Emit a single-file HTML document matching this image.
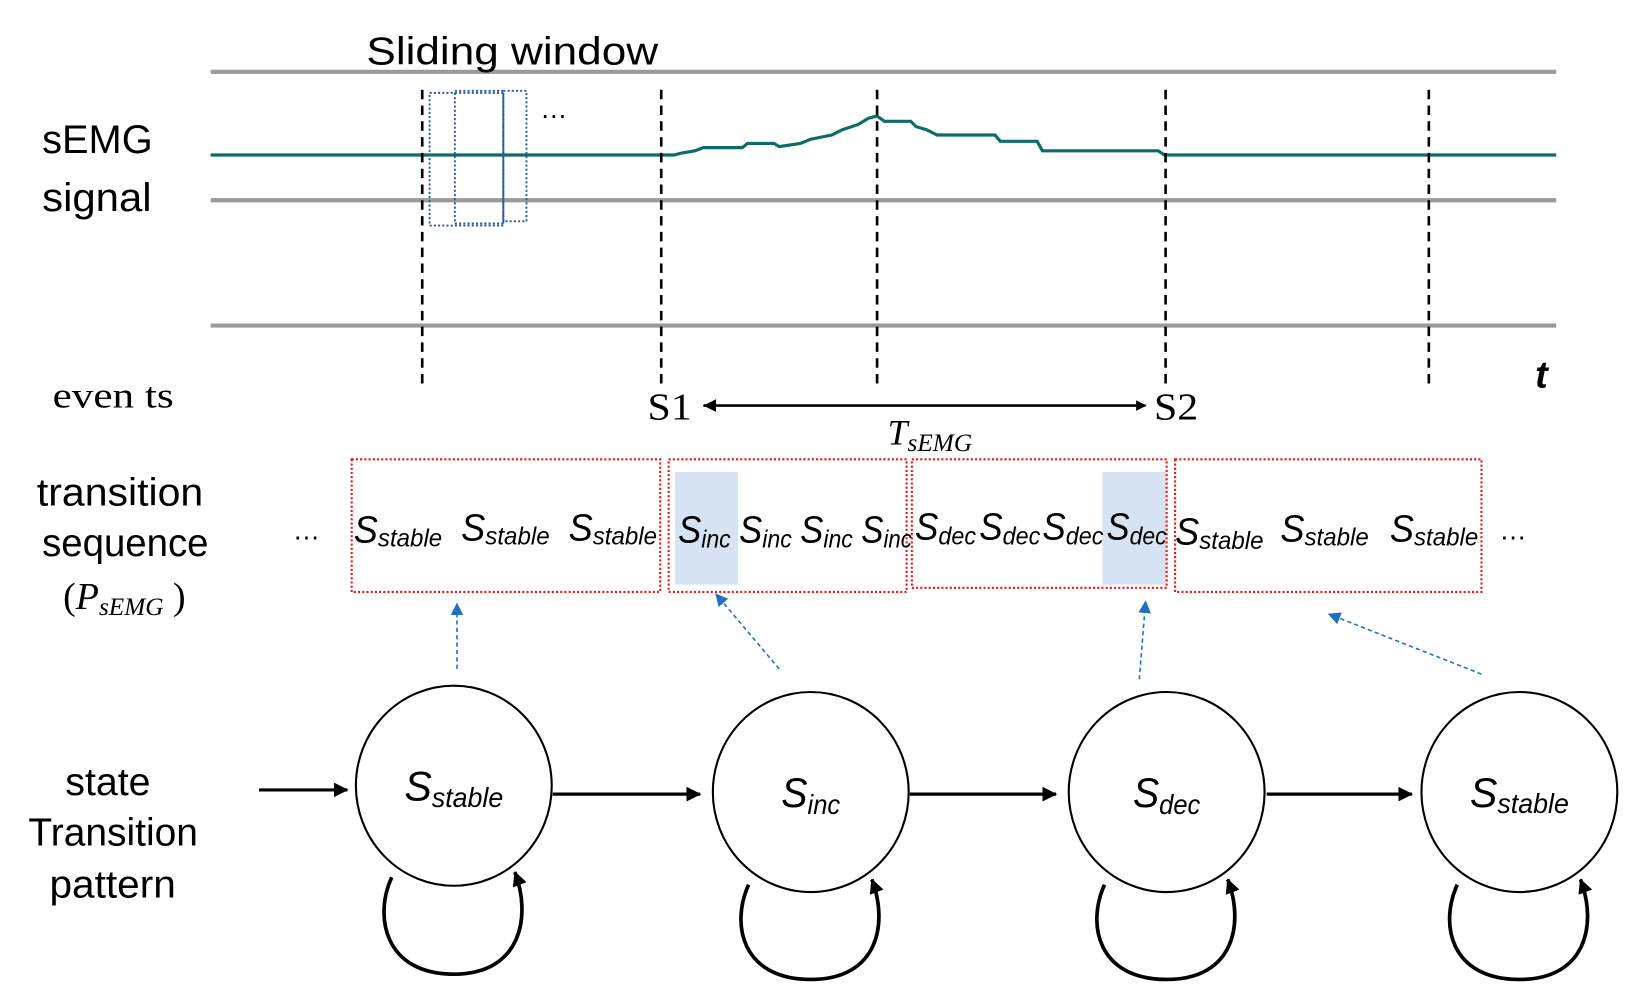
<!DOCTYPE html>
<html><head><meta charset="utf-8"><style>
html,body{margin:0;padding:0;background:#fff;width:1651px;height:1006px;overflow:hidden}
svg{display:block}
.c{font-family:"Liberation Sans",sans-serif}
.i{font-family:"Liberation Sans",sans-serif;font-style:italic}
.s{font-family:"Liberation Serif",serif}
</style></head><body>
<svg width="1651" height="1006" viewBox="0 0 1568 955" xmlns="http://www.w3.org/2000/svg">
<defs>
<marker id="ah" markerWidth="10" markerHeight="10" refX="9" refY="5" orient="auto" markerUnits="userSpaceOnUse"><path d="M0,0 L10,5 L0,10 z" fill="#000"/></marker>
<marker id="ah2" markerWidth="14" markerHeight="14" refX="13" refY="7" orient="auto" markerUnits="userSpaceOnUse"><path d="M0,0 L14,7 L0,14 z" fill="#000"/></marker>
<marker id="ab" markerWidth="12" markerHeight="12" refX="11" refY="6" orient="auto" markerUnits="userSpaceOnUse"><path d="M0,0 L12,6 L0,12 z" fill="#1f6fc5"/></marker>
</defs>
<g stroke="#9a9a9a" stroke-width="4">
<line x1="200" y1="68" x2="1478" y2="68"/>
<line x1="200" y1="190" x2="1478" y2="190"/>
<line x1="200" y1="309" x2="1478" y2="309"/>
</g>
<polyline fill="none" stroke="#0d6b6b" stroke-width="3" points="200,147 640,147 648,145 660,143 668,140 705,140 710,136 735,136 740,139 760,136 770,132 790,128 800,123 815,118 825,112 833,110 840,115 865,115 870,120 880,123 890,128 945,128 950,134 985,134 990,143 1100,143 1106,147 1478,147"/>
<g stroke="#000" stroke-width="2.5" stroke-dasharray="9,6">
<line x1="401" y1="85" x2="401" y2="365"/>
<line x1="628" y1="85" x2="628" y2="365"/>
<line x1="833" y1="85" x2="833" y2="365"/>
<line x1="1107" y1="85" x2="1107" y2="365"/>
<line x1="1357" y1="85" x2="1357" y2="365"/>
</g>
<g fill="none" stroke="#2a5aa8" stroke-width="1.8" stroke-dasharray="2,2">
<rect x="408" y="88" width="70" height="126"/>
<rect x="432" y="86" width="46" height="126"/>
<rect x="478" y="86" width="22" height="124"/>
</g>
<text x="513" y="112" class="c" font-size="26">…</text>
<text x="348" y="61" class="c" font-size="37" textLength="277" lengthAdjust="spacingAndGlyphs">Sliding window</text>
<text x="40" y="145" class="c" font-size="38" textLength="105" lengthAdjust="spacingAndGlyphs">sEMG</text>
<text x="40" y="200" class="c" font-size="38" textLength="104" lengthAdjust="spacingAndGlyphs">signal</text>
<text x="1458" y="368" class="i" font-size="36" font-weight="bold">t</text>
<text x="50" y="387" class="s" font-size="34" textLength="115" lengthAdjust="spacingAndGlyphs">even ts</text>
<text x="615" y="398" class="s" font-size="36" textLength="42" lengthAdjust="spacingAndGlyphs">S1</text>
<text x="1096" y="398" class="s" font-size="36" textLength="42" lengthAdjust="spacingAndGlyphs">S2</text>
<line x1="668" y1="385" x2="1088" y2="385" stroke="#000" stroke-width="2.5" marker-end="url(#ah)"/>
<path d="M668,385 l12,-6 v12z" fill="#000"/>
<text x="843" y="422" class="s" font-style="italic" font-size="34">T<tspan font-size="24" dy="6">sEMG</tspan></text>
<rect x="641" y="448" width="60" height="107" fill="#d5e3f3"/>
<rect x="1047" y="448" width="61" height="107" fill="#d5e3f3"/>
<g fill="none" stroke="#e31a1a" stroke-width="2" stroke-dasharray="2,2">
<rect x="334" y="436" width="293" height="126"/>
<rect x="635" y="436" width="226" height="126"/>
<rect x="866" y="436" width="242" height="122"/>
<rect x="1116" y="436" width="291" height="126"/>
</g>
<g class="i" font-size="36">
<text x="336" y="515" textLength="84" lengthAdjust="spacingAndGlyphs">S<tspan font-size="24" dy="4">stable</tspan></text>
<text x="438" y="513" textLength="84" lengthAdjust="spacingAndGlyphs">S<tspan font-size="24" dy="4">stable</tspan></text>
<text x="540" y="513" textLength="84" lengthAdjust="spacingAndGlyphs">S<tspan font-size="24" dy="4">stable</tspan></text>
<text x="644" y="515" textLength="50" lengthAdjust="spacingAndGlyphs">S<tspan font-size="24" dy="5">inc</tspan></text>
<text x="702" y="515" textLength="50" lengthAdjust="spacingAndGlyphs">S<tspan font-size="24" dy="5">inc</tspan></text>
<text x="760" y="515" textLength="50" lengthAdjust="spacingAndGlyphs">S<tspan font-size="24" dy="5">inc</tspan></text>
<text x="818" y="515" textLength="48" lengthAdjust="spacingAndGlyphs">S<tspan font-size="24" dy="5">inc</tspan></text>
<text x="869" y="512" textLength="58" lengthAdjust="spacingAndGlyphs">S<tspan font-size="24" dy="5">dec</tspan></text>
<text x="930" y="512" textLength="58" lengthAdjust="spacingAndGlyphs">S<tspan font-size="24" dy="5">dec</tspan></text>
<text x="990" y="512" textLength="58" lengthAdjust="spacingAndGlyphs">S<tspan font-size="24" dy="5">dec</tspan></text>
<text x="1051" y="512" textLength="57" lengthAdjust="spacingAndGlyphs">S<tspan font-size="24" dy="5">dec</tspan></text>
<text x="1116" y="517" textLength="84" lengthAdjust="spacingAndGlyphs">S<tspan font-size="24" dy="4">stable</tspan></text>
<text x="1216" y="514" textLength="84" lengthAdjust="spacingAndGlyphs">S<tspan font-size="24" dy="4">stable</tspan></text>
<text x="1320" y="514" textLength="84" lengthAdjust="spacingAndGlyphs">S<tspan font-size="24" dy="4">stable</tspan></text>
</g>
<text x="278" y="512" class="c" font-size="26">…</text>
<text x="1424" y="512" class="c" font-size="26">…</text>
<text x="35" y="480" class="c" font-size="37" textLength="158" lengthAdjust="spacingAndGlyphs">transition</text>
<text x="40" y="528" class="c" font-size="37" textLength="158" lengthAdjust="spacingAndGlyphs">sequence</text>
<text x="60" y="578" class="s" font-size="36">(<tspan font-style="italic">P</tspan><tspan font-style="italic" font-size="24" dy="6">sEMG</tspan><tspan dy="-6"> )</tspan></text>
<g stroke="#1f6fc5" stroke-width="1.5" stroke-dasharray="4,3" marker-end="url(#ab)">
<line x1="434" y1="635" x2="434" y2="573"/>
<line x1="740" y1="635" x2="680" y2="564"/>
<line x1="1082" y1="645" x2="1088" y2="571"/>
<line x1="1407" y1="640" x2="1262" y2="583"/>
</g>
<g fill="none" stroke="#000" stroke-width="2">
<ellipse cx="431" cy="746" rx="93" ry="95"/>
<ellipse cx="770" cy="752" rx="93" ry="95"/>
<ellipse cx="1108" cy="752" rx="93" ry="95"/>
<ellipse cx="1443" cy="752" rx="93" ry="95"/>
</g>
<g stroke="#000" stroke-width="3" marker-end="url(#ah2)">
<line x1="246" y1="750" x2="330" y2="750"/>
<line x1="525" y1="754" x2="665" y2="754"/>
<line x1="864" y1="754" x2="1003" y2="754"/>
<line x1="1203" y1="754" x2="1341" y2="754"/>
</g>
<g fill="none" stroke="#000" stroke-width="3.5" marker-end="url(#ah2)">
<path d="M372,833 C355,870 365,925 431,925 C495,925 505,870 489,828"/>
<path d="M711,840 C694,877 704,930 770,930 C834,930 844,877 828,835"/>
<path d="M1049,840 C1032,877 1042,930 1108,930 C1172,930 1182,877 1166,835"/>
<path d="M1384,840 C1367,877 1377,930 1443,930 C1507,930 1517,877 1501,835"/>
</g>
<g class="i" font-size="40">
<text x="384" y="760" textLength="94" lengthAdjust="spacingAndGlyphs">S<tspan font-size="26" dy="6">stable</tspan></text>
<text x="742" y="766" textLength="56" lengthAdjust="spacingAndGlyphs">S<tspan font-size="26" dy="7">inc</tspan></text>
<text x="1076" y="766" textLength="64" lengthAdjust="spacingAndGlyphs">S<tspan font-size="26" dy="7">dec</tspan></text>
<text x="1396" y="766" textLength="94" lengthAdjust="spacingAndGlyphs">S<tspan font-size="26" dy="6">stable</tspan></text>
</g>
<text x="62" y="755" class="c" font-size="37" textLength="81" lengthAdjust="spacingAndGlyphs">state</text>
<text x="27" y="803" class="c" font-size="37" textLength="161" lengthAdjust="spacingAndGlyphs">Transition</text>
<text x="47" y="852" class="c" font-size="37" textLength="120" lengthAdjust="spacingAndGlyphs">pattern</text>
</svg>
</body></html>
